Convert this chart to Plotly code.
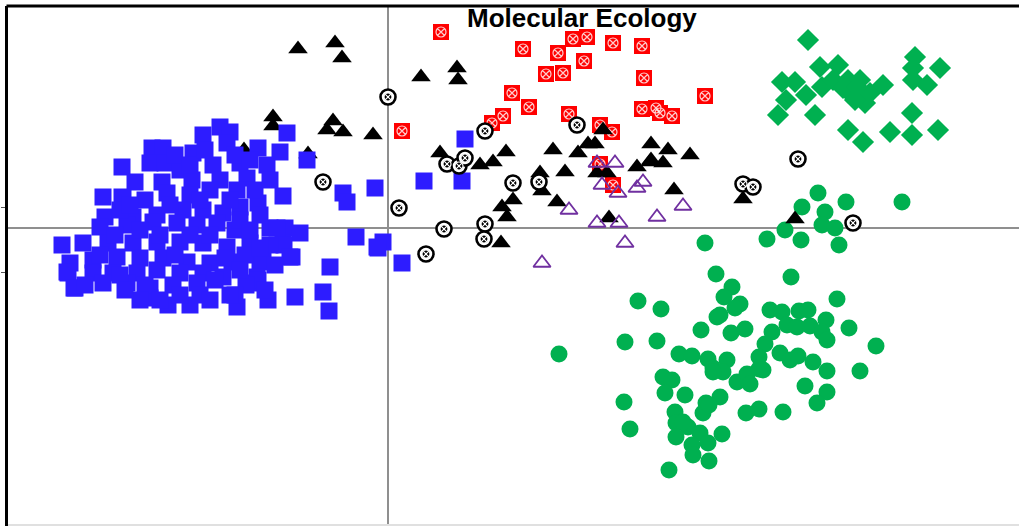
import plotly.graph_objects as go

# ---- data (PC1, PC2 scores per group) ----
blue_x = [-1.68,-1.85,-1.58,-1.61,-1.01,-1.95,-2.36,-2.25,-1.30,-1.08,-0.81,-2.66,-2.53,-2.85,-0.45,-0.13,
          -2.38,-2.23,-2.08,-1.75,-1.48,-1.21,-2.26,-1.96,-1.68,-1.41,-1.05,-2.66,-2.21,-1.98,-1.78,-1.51,-1.30,-1.48,-0.41,
          -2.83,-2.55,-2.31,-2.05,-1.85,-1.65,-2.88,-2.61,-2.35,-2.11,-1.91,-1.71,-1.53,-1.18,-1.03,-0.88,-0.32,-0.11,
          -3.26,-3.05,-2.80,-2.55,-2.31,-2.08,-1.85,-1.61,-1.38,-1.05,-0.96,-1.28,-3.18,-2.95,-2.71,-2.48,-2.25,-2.01,-1.78,-1.56,-0.58,
          -3.20,-2.95,-2.75,-2.51,-2.31,-2.08,-1.85,-1.65,-1.31,-3.13,-2.85,-2.61,-2.38,-2.15,-1.91,-1.73,-1.35,
          -2.38,-2.20,-1.98,-1.51,-1.20,-0.93,-0.65,-0.59,
          0.77,0.36,0.74,0.14,-0.05,-0.10,-1.11,-1.04,-0.98,-1.25,-1.30,-1.42,-1.53,-3.21,-3.14,-2.65,
          -2.68,-2.48,-2.28,-1.98,-1.78,-1.48,-1.28,-1.38,-1.18,-2.68,-2.43,-1.88,-1.58,-2.13,-1.63,-1.43,-1.28,-1.33,-1.18,
          -1.58,-1.88,-2.18,-2.43,-2.58,-1.53,-1.38,-2.13,-1.98,-1.83,-2.88,-3.03,-2.73,-1.13,-1.48,-1.23,-1.78,-2.08,-2.28,-2.48,-2.63]
blue_y = [1.01,0.93,0.96,0.85,0.95,0.75,0.80,0.80,0.80,0.76,0.68,0.61,0.46,0.31,0.35,0.40,
          0.65,0.65,0.58,0.63,0.65,0.63,0.46,0.48,0.48,0.50,0.32,0.31,0.35,0.33,0.38,0.38,0.25,0.21,0.26,
          0.11,0.11,0.13,0.18,0.18,0.15,0.01,0.03,0.06,0.05,0.03,0.05,-0.02,0.00,0.00,-0.05,-0.09,-0.19,
          -0.17,-0.15,-0.15,-0.15,-0.14,-0.14,-0.15,-0.19,-0.15,-0.15,-0.29,-0.34,-0.35,-0.32,-0.29,-0.30,-0.30,-0.34,-0.35,-0.34,-0.39,
          -0.45,-0.45,-0.45,-0.45,-0.42,-0.45,-0.45,-0.49,-0.49,-0.60,-0.55,-0.55,-0.60,-0.57,-0.55,-0.52,-0.55,
          -0.70,-0.77,-0.77,-0.79,-0.72,-0.69,-0.64,-0.83,
          0.89,0.47,0.47,-0.35,-0.14,-0.20,0.00,-0.17,-0.29,-0.32,-0.52,-0.57,-0.67,-0.44,-0.60,0.30,
          0.18,-0.02,-0.07,-0.07,-0.07,0.08,0.13,-0.02,-0.17,-0.47,-0.57,-0.67,-0.67,-0.27,-0.30,-0.27,-0.20,0.38,0.48,
          0.28,0.28,0.23,0.28,0.23,0.73,0.68,0.73,0.63,0.78,-0.27,-0.57,-0.07,-0.37,-0.42,-0.62,-0.72,-0.67,-0.72,-0.72,-0.62]

red_x = [0.53,1.35,1.70,1.85,1.99,2.25,2.54,1.96,1.58,1.75,2.56,1.24,1.41,1.81,3.17,2.54,2.68,2.72,2.84,1.15,1.04,0.14,2.12,2.24,2.12,2.25]
red_y = [1.96,1.79,1.75,1.89,1.91,1.85,1.82,1.67,1.54,1.55,1.50,1.35,1.21,1.14,1.32,1.19,1.20,1.15,1.12,1.12,1.05,0.97,1.03,0.96,0.64,0.43]

tri_x = [-0.90,-0.53,-0.46,-1.15,-1.15,-0.55,-0.61,-0.45,-0.15,-1.44,-0.80,0.33,0.69,0.70,2.15,0.52,1.18,1.65,0.92,1.05,
         1.90,2.00,2.07,2.63,2.80,3.02,2.49,2.62,2.75,1.77,1.52,2.09,2.19,2.63,1.54,1.69,1.14,1.25,1.19,1.13,2.21,2.86,3.55,4.07]
tri_y = [1.79,1.85,1.70,1.11,1.02,1.07,0.98,0.96,0.93,0.78,0.74,1.51,1.60,1.48,0.98,0.75,0.76,0.78,0.63,0.66,
         0.75,0.84,0.84,0.84,0.78,0.73,0.61,0.66,0.65,0.56,0.55,0.55,0.55,0.68,0.37,0.26,0.21,0.28,0.11,-0.15,0.10,0.38,0.29,0.09]

purple_x = [2.09,2.27,2.14,2.30,2.49,2.55,1.81,2.09,2.31,2.69,2.95,2.37,1.54]
purple_y = [0.65,0.65,0.43,0.35,0.40,0.46,0.18,0.05,0.05,0.11,0.22,-0.15,-0.35]

ring_x = [0.00,-0.65,0.97,1.89,0.59,0.71,0.77,1.25,1.51,3.55,3.65,0.11,0.56,0.97,0.96,0.38,4.10,4.65]
ring_y = [1.31,0.46,0.97,1.03,0.64,0.62,0.70,0.45,0.46,0.44,0.41,0.20,-0.01,0.04,-0.11,-0.26,0.69,0.05]

dia_x = [4.20,3.94,4.07,3.98,3.90,4.18,4.27,4.32,4.50,4.34,4.45,4.60,4.72,4.62,4.75,4.82,4.77,4.67,4.95,5.27,5.25,5.25,5.39,5.52,5.24,4.60,4.75,5.02,5.24,5.50,4.55,4.69]
dia_y = [1.88,1.46,1.46,1.28,1.13,1.33,1.13,1.61,1.63,1.41,1.48,1.48,1.48,1.35,1.31,1.35,1.25,1.28,1.43,1.71,1.60,1.48,1.43,1.60,1.15,0.98,0.86,0.96,0.93,0.98,1.40,1.41]

dot_x = [4.30,4.14,4.37,4.58,5.14,3.97,4.34,4.47,3.79,4.13,4.51,3.17,3.28,4.03,3.44,3.36,3.52,3.47,3.29,3.32,
         2.50,2.73,3.13,3.43,3.57,3.82,3.94,4.11,4.20,4.38,4.49,4.61,4.88,3.99,4.09,4.22,4.34,4.39,3.84,3.77,
         2.37,2.69,1.71,2.91,3.04,3.20,3.39,3.71,3.92,4.02,4.10,4.25,3.71,3.75,4.39,4.72,2.75,2.84,3.25,3.35,
         3.25,3.49,3.59,3.62,4.17,4.39,2.77,2.97,2.36,4.29,3.18,3.32,3.15,2.87,3.58,3.71,3.95,2.88,3.00,3.12,
         3.34,2.88,2.42,3.20,3.04,3.05,3.21,2.81,3.21,2.95]
dot_y = [0.35,0.21,0.16,0.26,0.26,-0.02,0.03,0.00,-0.11,-0.12,-0.17,-0.15,-0.46,-0.49,-0.59,-0.69,-0.76,-0.80,-0.89,-0.87,
         -0.73,-0.81,-1.02,-1.05,-1.01,-0.82,-0.84,-0.83,-0.82,-0.92,-0.71,-1.00,-1.18,-0.97,-0.99,-0.98,-1.04,-1.12,-1.04,-1.16,
         -1.14,-1.13,-1.26,-1.26,-1.28,-1.31,-1.32,-1.29,-1.25,-1.32,-1.28,-1.34,-1.41,-1.42,-1.43,-1.43,-1.49,-1.52,-1.40,-1.44,
         -1.44,-1.54,-1.46,-1.56,-1.58,-1.64,-1.65,-1.67,-1.74,-1.75,-1.75,-1.69,-1.85,-1.84,-1.85,-1.81,-1.84,-1.95,-1.99,-2.05,
         -2.06,-2.09,-2.01,-2.15,-2.17,-2.27,-2.33,-2.42,-1.77,-1.94]

tick_vals = [0.21, -0.44]

BLUE = "#2D1CFF"
GREEN = "#00B050"
PURPLE = "#7030A0"
RED = "#FF0000"

fig = go.Figure()
fig.add_trace(go.Scatter(x=dot_x, y=dot_y, mode="markers",
                         marker=dict(symbol="circle", size=17, color=GREEN, line=dict(width=0))))
fig.add_trace(go.Scatter(x=dia_x, y=dia_y, mode="markers",
                         marker=dict(symbol="diamond", size=17, color=GREEN, line=dict(width=0))))
fig.add_trace(go.Scatter(x=red_x, y=red_y, mode="markers",
                         marker=dict(symbol="square", size=16, color=RED, line=dict(width=0))))
fig.add_trace(go.Scatter(x=red_x, y=red_y, mode="markers",
                         marker=dict(symbol="circle-x-open", size=10, color="rgba(255,255,255,0.8)", line=dict(width=1.2))))
fig.add_trace(go.Scatter(x=tri_x, y=tri_y, mode="markers",
                         marker=dict(symbol="triangle-up", size=17, color="black", line=dict(width=0))))
fig.add_trace(go.Scatter(x=blue_x, y=blue_y, mode="markers",
                         marker=dict(symbol="square", size=17, color=BLUE, line=dict(width=0))))
fig.add_trace(go.Scatter(x=purple_x, y=purple_y, mode="markers",
                         marker=dict(symbol="triangle-up-open", size=15, color=PURPLE, line=dict(width=1.8))))
fig.add_trace(go.Scatter(x=ring_x, y=ring_y, mode="markers",
                         marker=dict(symbol="circle", size=15, color="white", line=dict(width=2.6, color="black"))))
fig.add_trace(go.Scatter(x=ring_x, y=ring_y, mode="markers",
                         marker=dict(symbol="circle-x", size=8, color="black", line=dict(width=1.2, color="white"))))

fig.update_layout(
    width=1019, height=526, autosize=False,
    margin=dict(l=8, r=0, t=6, b=0, pad=0),
    paper_bgcolor="white", plot_bgcolor="white",
    showlegend=False,
    xaxis=dict(range=[-3.80, 6.31], showgrid=False, zeroline=True, zerolinecolor="#8f8f8f",
               zerolinewidth=2, showticklabels=False, ticks="", showline=False, fixedrange=True),
    yaxis=dict(range=[-2.98, 2.22], showgrid=False, zeroline=True, zerolinecolor="#8f8f8f",
               zerolinewidth=2, showticklabels=False, ticks="outside", tickvals=tick_vals,
               ticklen=4, tickwidth=1, tickcolor="#555555",
               showline=True, linecolor="black", linewidth=3, fixedrange=True),
    shapes=[
        dict(type="line", xref="paper", yref="paper", x0=-0.0015, x1=1, y0=1, y1=1,
             line=dict(color="black", width=3)),
        dict(type="line", xref="paper", yref="paper", x0=0, x1=1, y0=0.002, y1=0.002,
             line=dict(color="#e0e0e0", width=2)),
    ],
    annotations=[dict(text="<b>Molecular Ecology</b>", xref="paper", yref="paper",
                      x=0.568, y=0.977, xanchor="center", yanchor="middle", showarrow=False,
                      font=dict(family="Liberation Sans, Arial, sans-serif", size=26, color="black"))],
)

fig.write_html("out.html", config={"displayModeBar": False},
               post_script="document.body.style.margin='0';document.body.style.overflow='hidden';")
